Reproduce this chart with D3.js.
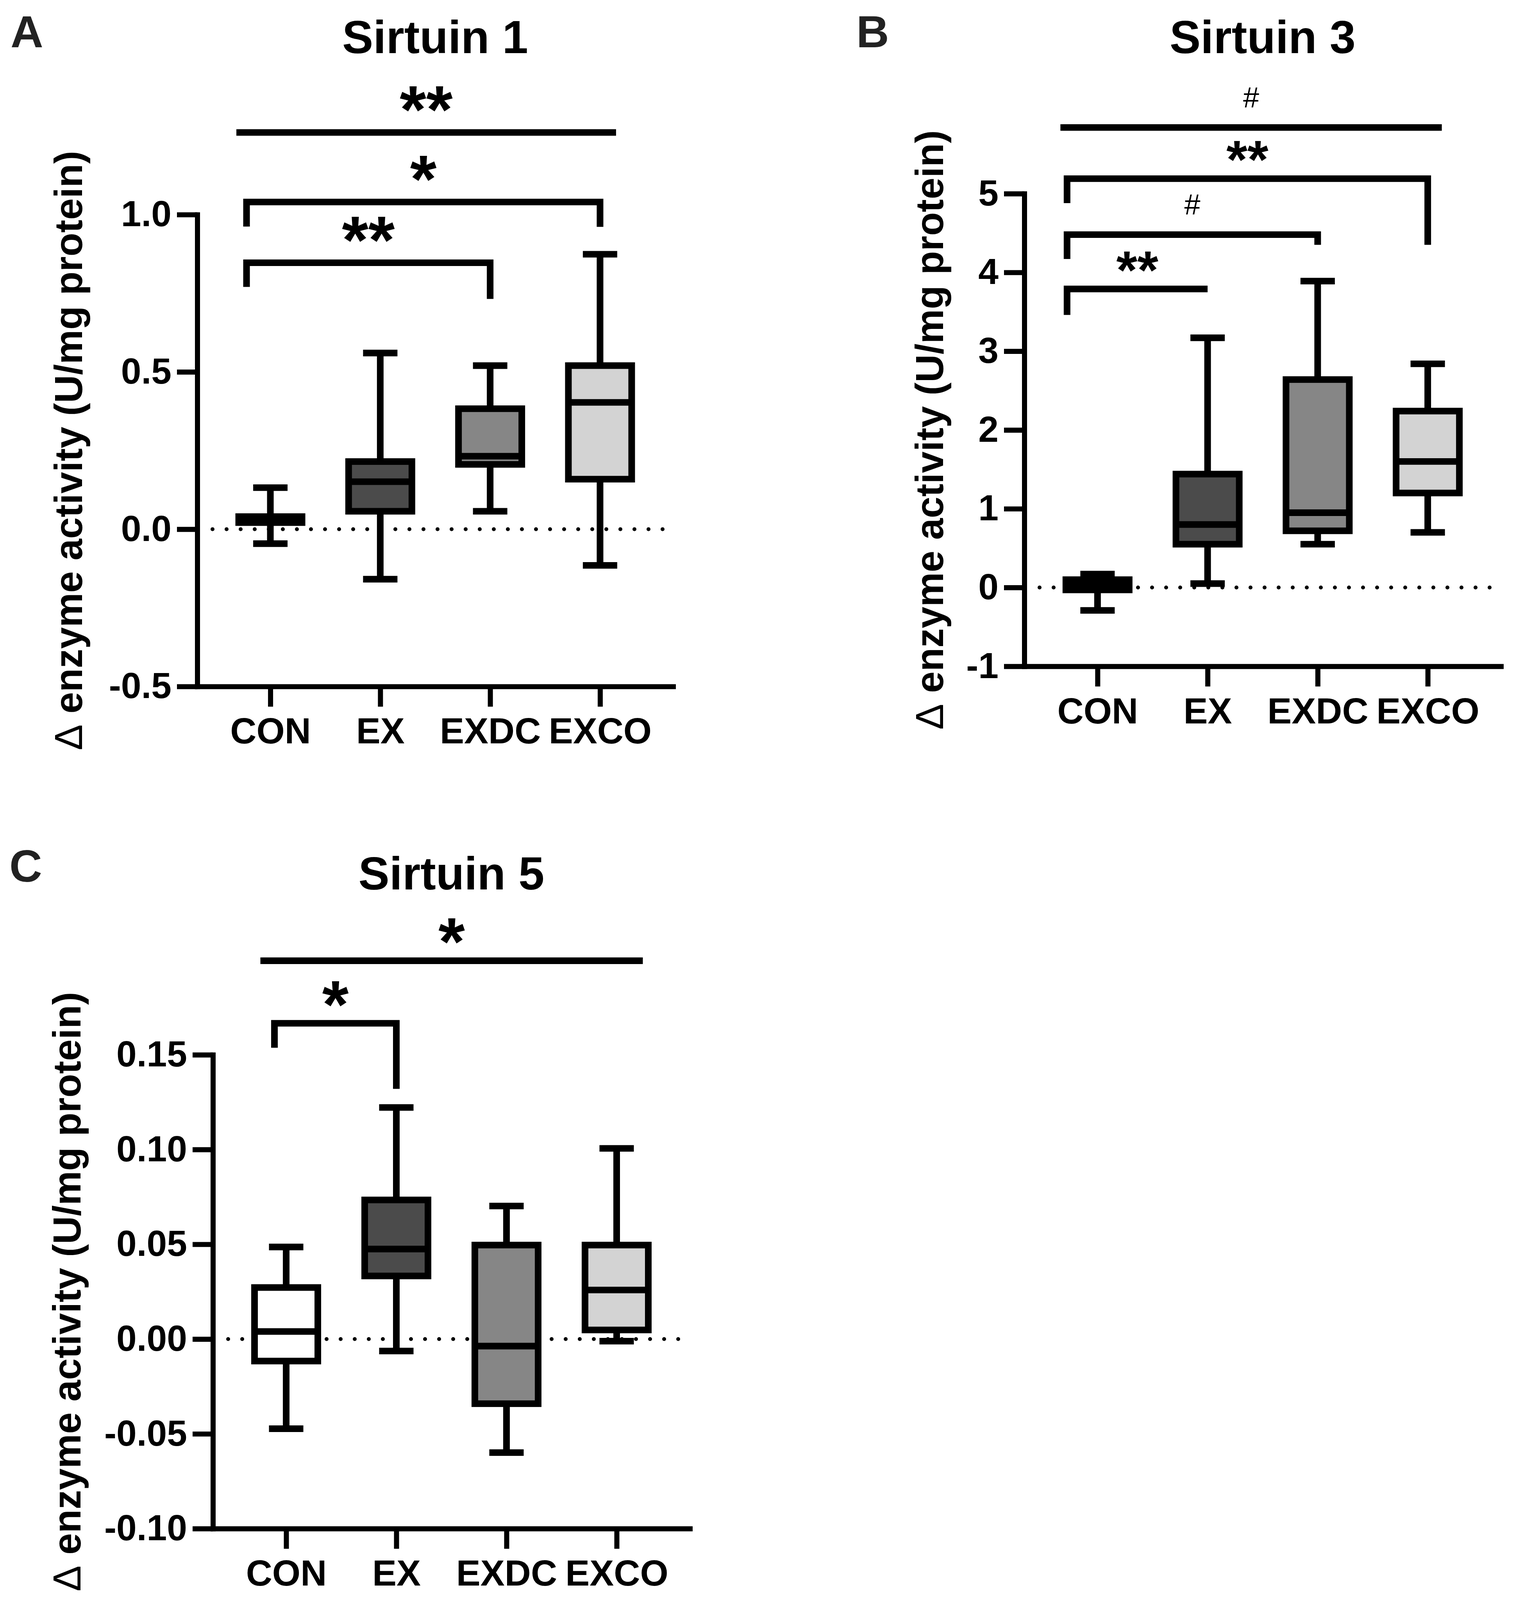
<!DOCTYPE html>
<html>
<head>
<meta charset="utf-8">
<script src="https://cdn.jsdelivr.net/npm/d3@7"></script>
<style>
  html, body { margin: 0; padding: 0; background: #fff; overflow: hidden; }
  svg { display: block; width: 100vw; height: 100vh; }
  svg text { font-family: "Liberation Sans", Arial, sans-serif; }
</style>
</head>
<body>
<div id="chart"></div>
<script>
const groups = ["CON", "EX", "EXDC", "EXCO"];

// Sirtuin 1: whiskers min..max, box q1..q3
const sirt1Min = [-0.046, -0.159, 0.057, -0.115];
const sirt1Q1 = [0.021, 0.057, 0.206, 0.159];
const sirt1Median = [0.030, 0.151, 0.232, 0.403];
const sirt1Q3 = [0.040, 0.215, 0.383, 0.520];
const sirt1Max = [0.132, 0.560, 0.520, 0.874];
const sirt1Ticks = [-0.5, 0, 0.5, 1.0];
const sirt1Brackets = [
  { from: "CON", to: "EXDC", y: 0.847, legFrom: 0.770, legTo: 0.732, label: "**" },
  { from: "CON", to: "EXCO", y: 1.040, legFrom: 0.962, legTo: 0.961, label: "*" },
  { from: "CON", to: "EXCO", y: 1.261, legFrom: null, legTo: null, label: "**" }
];

// Sirtuin 3
const sirt3Min = [-0.29, 0.05, 0.55, 0.70];
const sirt3Q1 = [-0.03, 0.55, 0.72, 1.20];
const sirt3Median = [0.02, 0.80, 0.95, 1.60];
const sirt3Q3 = [0.10, 1.44, 2.64, 2.24];
const sirt3Max = [0.17, 3.17, 3.89, 2.84];
const sirt3Ticks = [-1, 0, 1, 2, 3, 4, 5];
const sirt3Brackets = [
  { from: "CON", to: "EX", y: 3.79, legFrom: 3.46, legTo: null, label: "**" },
  { from: "CON", to: "EXDC", y: 4.48, legFrom: 4.17, legTo: 4.35, label: "#" },
  { from: "CON", to: "EXCO", y: 5.19, legFrom: 4.88, legTo: 4.35, label: "**" },
  { from: "CON", to: "EXCO", y: 5.84, legFrom: null, legTo: null, label: "#" }
];

// Sirtuin 5
const sirt5Min = [-0.0473, -0.0063, -0.0599, -0.0011];
const sirt5Q1 = [-0.0116, 0.0333, -0.0341, 0.0048];
const sirt5Median = [0.0040, 0.0475, -0.0037, 0.0259];
const sirt5Q3 = [0.0272, 0.0734, 0.0496, 0.0496];
const sirt5Max = [0.0486, 0.1222, 0.0702, 0.1006];
const sirt5Ticks = [-0.10, -0.05, 0, 0.05, 0.10, 0.15];
const sirt5Brackets = [
  { from: "CON", to: "EX", y: 0.1666, legFrom: 0.1537, legTo: 0.132, label: "*" },
  { from: "CON", to: "EXCO", y: 0.1996, legFrom: null, legTo: null, label: "*" }
];

const fills = ["#ffffff", "#4b4b4b", "#868686", "#d3d3d3"];
const W = 3878, H = 4123;
const FONT_AXIS = 93, LINE = 13, BOX_LINE = 17;

// the drawing space is the reference's pixel grid, stretched over the viewport
const svg = d3.select("#chart").append("svg")
  .attr("viewBox", "0 0 " + W + " " + H)
  .attr("preserveAspectRatio", "none")
  .style("background", "#fff");

const hyphen = f => v => f(v).replace("\u2212", "-");

function drawPanel(cfg) {
  const x = d3.scalePoint().domain(groups).range(cfg.xRange).padding(0.665);
  const y = d3.scaleLinear().domain(cfg.yDomain).range(cfg.yRange);
  const g = svg.append("g");

  // dotted zero line
  g.append("line")
    .attr("x1", cfg.xRange[0] + 39)
    .attr("x2", cfg.xRange[1] - 6)
    .attr("y1", y(0))
    .attr("y2", y(0))
    .attr("stroke", "#000")
    .attr("stroke-width", 10)
    .attr("stroke-linecap", "round")
    .attr("stroke-dasharray", "0,36");

  const boxes = groups.map((k, i) => ({
    key: k, fill: fills[i],
    min: cfg.min[i], q1: cfg.q1[i], med: cfg.med[i], q3: cfg.q3[i], max: cfg.max[i]
  }));

  const bw = 162, cw = 88;
  const box = g.selectAll(".box").data(boxes).enter().append("g")
    .attr("class", "box")
    .attr("transform", d => "translate(" + x(d.key) + ",0)")
    .attr("stroke", "#000")
    .attr("stroke-width", BOX_LINE);

  box.append("line")
    .attr("y1", d => y(d.min))
    .attr("y2", d => y(d.max));
  box.append("line")
    .attr("x1", -cw / 2).attr("x2", cw / 2)
    .attr("y1", d => y(d.max)).attr("y2", d => y(d.max));
  box.append("line")
    .attr("x1", -cw / 2).attr("x2", cw / 2)
    .attr("y1", d => y(d.min)).attr("y2", d => y(d.min));
  box.append("rect")
    .attr("x", -bw / 2)
    .attr("width", bw)
    .attr("y", d => y(d.q3))
    .attr("height", d => y(d.q1) - y(d.q3))
    .attr("fill", d => d.fill);
  box.append("line")
    .attr("x1", -bw / 2).attr("x2", bw / 2)
    .attr("y1", d => y(d.med)).attr("y2", d => y(d.med));

  // axes
  const yAxis = d3.axisLeft(y)
    .tickValues(cfg.ticks)
    .tickFormat(hyphen(d3.format(cfg.fmt)))
    .tickSize(52).tickPadding(14).tickSizeOuter(0);
  const xAxis = d3.axisBottom(x)
    .tickSize(52).tickPadding(29).tickSizeOuter(0);

  const ya = g.append("g")
    .attr("transform", "translate(" + cfg.xRange[0] + ",0)")
    .call(yAxis);
  const xa = g.append("g")
    .attr("transform", "translate(0," + cfg.yRange[0] + ")")
    .call(xAxis);

  [ya, xa].forEach(a => {
    a.attr("font-size", FONT_AXIS)
      .attr("font-weight", "bold")
      .attr("font-family", '"Liberation Sans", Arial, sans-serif');
    a.select(".domain")
      .attr("stroke-width", LINE)
      .attr("stroke-linecap", "square");
    a.selectAll(".tick line").attr("stroke-width", LINE);
    a.selectAll(".tick text").attr("fill", "#000");
  });

  // significance brackets
  cfg.brackets.forEach(b => {
    let xl, xr;
    if (b.legFrom === null) {
      xl = x(b.from) + cfg.lineExt[0];
      xr = x(b.to) + cfg.lineExt[1];
      g.append("line")
        .attr("x1", xl).attr("x2", xr)
        .attr("y1", y(b.y)).attr("y2", y(b.y))
        .attr("stroke", "#000")
        .attr("stroke-width", BOX_LINE);
    } else {
      xl = x(b.from) + cfg.inset;
      xr = x(b.to);
      let p = "M" + xl + "," + y(b.legFrom) + "V" + y(b.y) + "H" + xr;
      if (b.legTo !== null) p += "V" + y(b.legTo);
      g.append("path")
        .attr("d", p)
        .attr("fill", "none")
        .attr("stroke", "#000")
        .attr("stroke-width", BOX_LINE)
        .attr("stroke-linejoin", "miter");
    }
    const star = b.label !== "#";
    const fs = star ? cfg.starSize : 74;
    g.append("text")
      .attr("x", (xl + xr) / 2)
      .attr("y", star ? y(b.y) - cfg.starOff + 0.5 * fs : y(b.y) - 52)
      .attr("text-anchor", "middle")
      .attr("font-size", fs)
      .attr("font-weight", star ? "bold" : "normal")
      .text(b.label);
  });

  // titles
  g.append("text")
    .attr("x", (cfg.xRange[0] + cfg.xRange[1]) / 2)
    .attr("y", cfg.titleY)
    .attr("text-anchor", "middle")
    .attr("font-size", 119)
    .attr("font-weight", "bold")
    .text(cfg.title);

  g.append("text")
    .attr("x", cfg.letter[0])
    .attr("y", cfg.letter[1])
    .attr("font-size", 116)
    .attr("font-weight", "bold")
    .attr("fill", "#222")
    .text(cfg.letterText);

  const lab = g.append("text")
    .attr("transform", "translate(" + cfg.labelX + "," + (cfg.yRange[0] + cfg.yRange[1]) / 2 + ") rotate(-90)")
    .attr("text-anchor", "middle")
    .attr("font-size", 100)
    .attr("font-weight", "bold");
  lab.append("tspan").attr("font-weight", "normal").text("\u0394");
  lab.append("tspan").text(" enzyme activity (U/mg protein)");
}

drawPanel({
  title: "Sirtuin 1", letterText: "A", letter: [27, 122], titleY: 137,
  xRange: [505, 1723], yRange: [1769, 553], yDomain: [-0.5, 1.0],
  ticks: sirt1Ticks, fmt: ".1f", labelX: 210,
  min: sirt1Min, q1: sirt1Q1, med: sirt1Median, q3: sirt1Q3, max: sirt1Max,
  brackets: sirt1Brackets, inset: -61, lineExt: [-87, 41], starOff: 86, starSize: 174
});

drawPanel({
  title: "Sirtuin 3", letterText: "B", letter: [2192, 122], titleY: 137,
  xRange: [2622, 3842], yRange: [1717, 499], yDomain: [-1, 5],
  ticks: sirt3Ticks, fmt: "d", labelX: 2414,
  min: sirt3Min, q1: sirt3Q1, med: sirt3Median, q3: sirt3Q3, max: sirt3Max,
  brackets: sirt3Brackets, inset: -78, lineExt: [-95, 36], starOff: 70, starSize: 138
});

drawPanel({
  title: "Sirtuin 5", letterText: "C", letter: [24, 2272], titleY: 2292,
  xRange: [545, 1766], yRange: [3939, 2718], yDomain: [-0.10, 0.15],
  ticks: sirt5Ticks, fmt: ".2f", labelX: 206,
  min: sirt5Min, q1: sirt5Q1, med: sirt5Median, q3: sirt5Q3, max: sirt5Max,
  brackets: sirt5Brackets, inset: -30, lineExt: [-66, 67], starOff: 76, starSize: 174
});
</script>
</body>
</html>
